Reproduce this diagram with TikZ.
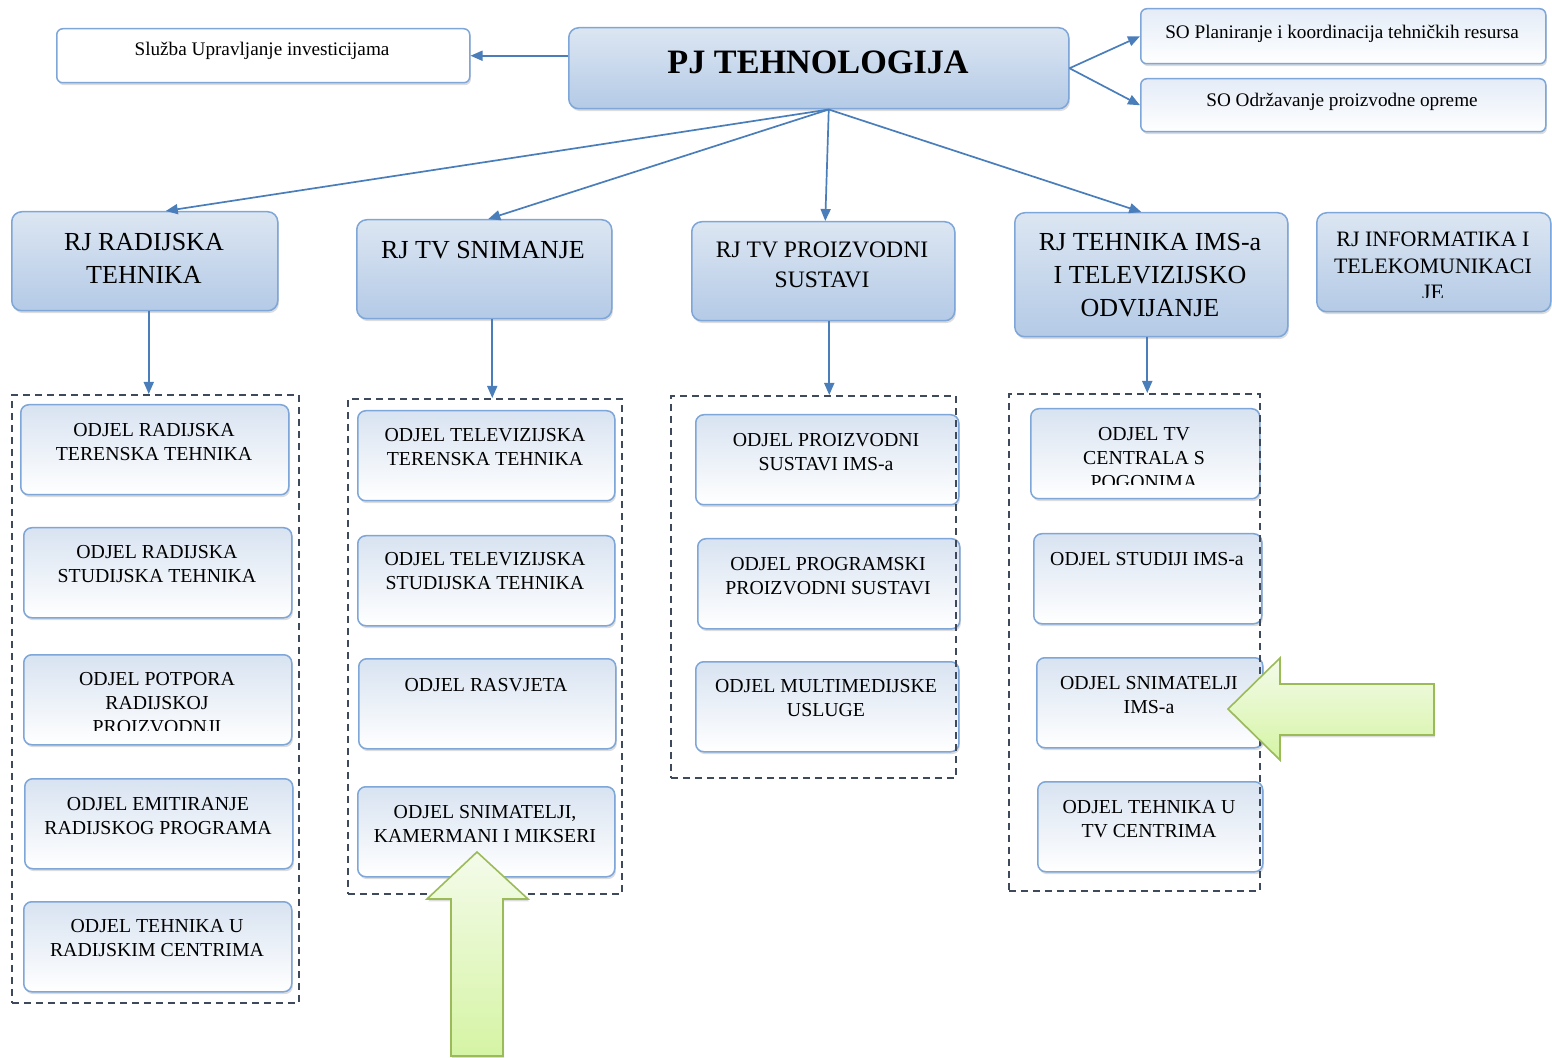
\documentclass[tikz,border=0pt]{standalone}
\usepackage{fontspec}
\setmainfont{Liberation Serif}
\usetikzlibrary{arrows.meta,shadows,calc}
\definecolor{bord}{HTML}{7EA6D8}
\definecolor{ptop}{HTML}{DCE6F2}
\definecolor{pbot}{HTML}{B4CAE6}
\definecolor{ctop}{HTML}{D8E3F1}
\definecolor{stop}{HTML}{E4ECF7}
\definecolor{arrc}{HTML}{4A7EBB}
\definecolor{dashc}{HTML}{3E4A5C}
\definecolor{gbord}{HTML}{9BBB59}
\definecolor{gtop}{HTML}{F4FBEA}
\definecolor{gbot}{HTML}{D5F4A4}
\tikzset{
  shd/.style={drop shadow={shadow xshift=0.6pt, shadow yshift=-1.2pt, opacity=0.28}},
  pbox/.style={draw=bord, line width=0.75pt, rounded corners=5pt, top color=ptop, bottom color=pbot, shd, inner sep=0},
  cbox/.style={draw=bord, line width=0.75pt, rounded corners=4pt, top color=ctop, bottom color=white, shd, inner sep=0},
  sbox/.style={draw=bord, line width=0.75pt, rounded corners=3pt, top color=stop, bottom color=white, shd, inner sep=0},
  wbox/.style={draw=bord, line width=0.75pt, rounded corners=3pt, fill=white, shd, inner sep=0},
  grp/.style={draw=dashc, line width=0.8pt, dash pattern=on 3.5pt off 2.5pt, inner sep=0},
  conn/.style={draw=arrc, line width=0.85pt, -{Triangle[length=6pt,width=5pt]}},
  ct/.style={align=center, inner sep=0, font=\fontsize{9.9}{12.2}\selectfont},
  st/.style={align=center, inner sep=0, font=\fontsize{9.6}{12}\selectfont},
  pt/.style={align=center, inner sep=0, font=\fontsize{13}{16.5}\selectfont},
  pts/.style={align=center, inner sep=0, font=\fontsize{11.8}{15}\selectfont},
  ptx/.style={align=center, inner sep=0, font=\fontsize{11}{13.3}\selectfont},
  garr/.style={draw=gbord, line width=0.8pt, top color=gtop, bottom color=gbot, line join=miter, shd},
}
\newcommand\mkbox[6]{%
  \pgfmathsetmacro\bw{(#5-#3)*0.5}\pgfmathsetmacro\bh{(#6-#4)*0.5}%
  \node[#2, minimum width=\bw pt, minimum height=\bh pt, anchor=north west] (#1) at (#3,#4) {};}
\begin{document}
\begin{tikzpicture}[x=0.5pt,y=-0.5pt]
\useasboundingbox (0,0) rectangle (1552,1058);
% top level
\mkbox{slu}{wbox}{56}{28}{469}{82}
\node[st] (slu-t) at (262,51) {Služba Upravljanje investicijama};
\mkbox{pj}{pbox}{568}{27}{1068}{108}
\node[align=center, inner sep=0, font=\fontsize{17.1}{19}\selectfont\bfseries] (pj-t) at (818,62) {PJ TEHNOLOGIJA};
\mkbox{so1}{sbox}{1140}{8}{1545}{63}
\node[st] (so1-t) at (1342,34) {SO Planiranje i koordinacija tehničkih resursa};
\mkbox{so2}{sbox}{1140}{78}{1545}{131}
\node[st] (so2-t) at (1342,102) {SO Održavanje proizvodne opreme};
% RJ level
\mkbox{rj1}{pbox}{11}{211}{277}{310}
\node[pt] (rj1-t) at (144,258) {RJ RADIJSKA\\TEHNIKA};
\mkbox{rj2}{pbox}{356}{219}{611}{318}
\node[pt] (rj2-t) at (483,250) {RJ TV SNIMANJE};
\mkbox{rj3}{pbox}{691}{221}{954}{320}
\node[pts] (rj3-t) at (822,265) {RJ TV PROIZVODNI\\SUSTAVI};
\mkbox{rj4}{pbox}{1014}{212}{1287}{336}
\node[pt] (rj4-t) at (1150,275) {RJ TEHNIKA IMS-a\\I TELEVIZIJSKO\\ODVIJANJE};
\mkbox{rj5}{pbox}{1316}{212}{1550}{311}
\begin{scope}
\clip (1316,212) rectangle (1550,298);
\node[ptx] (rj5-t) at (1433,266) {RJ INFORMATIKA I\\TELEKOMUNIKACI\\JE};
\end{scope}
% column 1
\mkbox{c11}{cbox}{20}{404}{288}{494}
\node[ct] (c11-t) at (154,442) {ODJEL RADIJSKA\\TERENSKA TEHNIKA};
\mkbox{c12}{cbox}{23}{527}{291}{617}
\node[ct] (c12-t) at (157,564) {ODJEL RADIJSKA\\STUDIJSKA TEHNIKA};
\mkbox{c13}{cbox}{23}{654}{291}{744}
\begin{scope}
\clip (23,654) rectangle (291,730);
\node[ct] (c13-t) at (157,703) {ODJEL POTPORA\\RADIJSKOJ\\PROIZVODNJI};
\end{scope}
\mkbox{c14}{cbox}{24}{778}{292}{868}
\node[ct] (c14-t) at (158,816) {ODJEL EMITIRANJE\\RADIJSKOG PROGRAMA};
\mkbox{c15}{cbox}{23}{901}{291}{991}
\node[ct] (c15-t) at (157,938) {ODJEL TEHNIKA U\\RADIJSKIM CENTRIMA};
% column 2
\mkbox{c21}{cbox}{357}{410}{614}{500}
\node[ct] (c21-t) at (485,447) {ODJEL TELEVIZIJSKA\\TERENSKA TEHNIKA};
\mkbox{c22}{cbox}{357}{535}{614}{625}
\node[ct] (c22-t) at (485,571) {ODJEL TELEVIZIJSKA\\STUDIJSKA TEHNIKA};
\mkbox{c23}{cbox}{358}{658}{615}{748}
\node[ct] (c23-t) at (486,685) {ODJEL RASVJETA};
\mkbox{c24}{cbox}{357}{786}{614}{876}
\node[ct] (c24-t) at (485,824) {ODJEL SNIMATELJI,\\KAMERMANI I MIKSERI};
% column 3
\mkbox{c31}{cbox}{695}{414}{958}{504}
\node[ct] (c31-t) at (826,452) {ODJEL PROIZVODNI\\SUSTAVI IMS-a};
\mkbox{c32}{cbox}{697}{538}{959}{628}
\node[ct] (c32-t) at (828,576) {ODJEL PROGRAMSKI\\PROIZVODNI SUSTAVI};
\mkbox{c33}{cbox}{695}{661}{958}{751}
\node[ct] (c33-t) at (826,698) {ODJEL MULTIMEDIJSKE\\USLUGE};
% column 4
\mkbox{c41}{cbox}{1030}{408}{1259}{498}
\begin{scope}
\clip (1030,408) rectangle (1259,485);
\node[ct] (c41-t) at (1144,458) {ODJEL TV\\CENTRALA S\\POGONIMA};
\end{scope}
\mkbox{c42}{cbox}{1033}{533}{1261}{623}
\node[ct] (c42-t) at (1147,559) {ODJEL STUDIJI IMS-a};
\mkbox{c43}{cbox}{1036}{657}{1262}{747}
\node[ct] (c43-t) at (1149,695) {ODJEL SNIMATELJI\\IMS-a};
\mkbox{c44}{cbox}{1037}{781}{1262}{871}
\node[ct] (c44-t) at (1149,819) {ODJEL TEHNIKA U\\TV CENTRIMA};
% dashed groups
\mkbox{g1}{grp}{11}{394}{298}{1002}
\mkbox{g2}{grp}{347}{398}{621}{893}
\mkbox{g3}{grp}{670}{395}{955}{777}
\mkbox{g4}{grp}{1008}{393}{1259}{890}
% connectors
\draw[conn] (pj.west |- slu.east) -- (slu.east);
\draw[conn] (pj.east) -- (so1.west);
\draw[conn] (pj.east) -- (so2.west);
\coordinate (pjb) at ([xshift=5pt]pj.south);
\draw[conn] (pjb) -- ([xshift=10.5pt]rj1.north);
\draw[conn] (pjb) -- ([xshift=2pt]rj2.north);
\draw[conn] (pjb) -- ([xshift=1pt]rj3.north);
\draw[conn] (pjb) -- ([xshift=-5pt]rj4.north);
\draw[conn] ([xshift=2pt]rj1.south) -- ([xshift=2pt]rj1.south |- g1.north);
\draw[conn] ([xshift=4pt]rj2.south) -- ([xshift=4pt]rj2.south |- g2.north);
\draw[conn] ([xshift=3pt]rj3.south) -- ([xshift=3pt]rj3.south |- g3.north);
\draw[conn] ([xshift=-2pt]rj4.south) -- ([xshift=-2pt]rj4.south |- g4.north);
% green block arrows
\path[garr] (477,852) -- (528,899) -- (503,899) -- (503,1056) -- (451,1056) -- (451,899) -- (427,899) -- cycle;
\path[garr] (1228,709) -- (1280,658) -- (1280,684) -- (1434,684) -- (1434,735) -- (1280,735) -- (1280,760) -- cycle;
\end{tikzpicture}
\end{document}
